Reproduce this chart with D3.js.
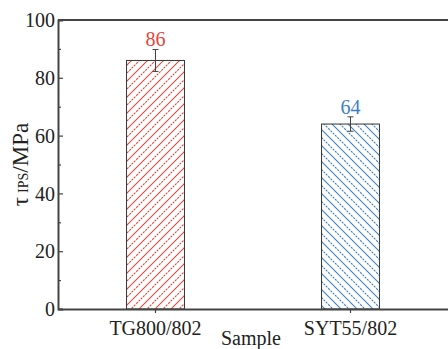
<!DOCTYPE html>
<html><head><meta charset="utf-8">
<script src="https://cdn.jsdelivr.net/npm/d3@7"></script>
<style>body{margin:0;background:#fff;}svg{display:block;} svg text{font-family:"Liberation Serif","DejaVu Serif",serif !important;}</style>
</head><body>
<script>
const categories = ["TG800/802", "SYT55/802"];
const values = [86, 64];
const errors = [3.8, 2.5];
const colors = ["#e2463a", "#3e80c6"];
const yTicks = [0, 20, 40, 60, 80, 100];

const W = 448, H = 349;
const m = {l: 58, t: 20, r: 0, b: 40};
const svg = d3.select("body").append("svg").attr("width", W).attr("height", H);
const defs = svg.append("defs");

const x = d3.scaleBand().domain(categories).range([m.l, W - m.r]).paddingInner(0.703).paddingOuter(0.3515);
const y = d3.scaleLinear().domain([0, 100]).range([H - m.b, m.t]);

// hatch patterns: alternating solid and dotted diagonal lines
categories.forEach((c, i) => {
  const p = defs.append("pattern").attr("id", "h" + i).attr("patternUnits", "userSpaceOnUse")
    .attr("width", 16).attr("height", 16);
  const seg = (k, solid) => {
    let l;
    if (i === 0) l = p.append("line").attr("x1", k - 18).attr("y1", 18).attr("x2", k + 2).attr("y2", -2);
    else l = p.append("line").attr("x1", k - 18).attr("y1", -2).attr("x2", k + 2).attr("y2", 18);
    l.attr("stroke", colors[i]).attr("stroke-width", 1.1);
    if (!solid) l.attr("stroke-dasharray", "2.2,1");
  };
  seg(0, true); seg(16, true); seg(32, true); seg(8, false); seg(24, false);
});

// bars
svg.selectAll("rect.bar").data(categories).enter().append("rect")
  .attr("x", d => x(d)).attr("width", x.bandwidth())
  .attr("y", (d, i) => y(values[i])).attr("height", (d, i) => y(0) - y(values[i]))
  .attr("fill", (d, i) => `url(#h${i})`).attr("stroke", "#333").attr("stroke-width", 1);

// error bars
const eb = svg.append("g").attr("stroke", "#444").attr("stroke-width", 1);
categories.forEach((c, i) => {
  const cx = x(c) + x.bandwidth() / 2;
  eb.append("line").attr("x1", cx).attr("x2", cx).attr("y1", y(values[i] + errors[i])).attr("y2", y(values[i] - errors[i]));
  [1, -1].forEach(s => eb.append("line").attr("x1", cx - 3).attr("x2", cx + 3)
    .attr("y1", y(values[i] + s * errors[i])).attr("y2", y(values[i] + s * errors[i])));
});

// value labels
svg.selectAll("text.val").data(categories).enter().append("text")
  .attr("x", d => x(d) + x.bandwidth() / 2).attr("y", (d, i) => y(values[i] + errors[i]) - 3)
  .attr("text-anchor", "middle").attr("font-size", 20)
  .attr("fill", (d, i) => colors[i]).text((d, i) => values[i]);

// axes
const axisColor = "#444";
const yAxis = svg.append("g").attr("transform", `translate(${m.l},0)`)
  .call(d3.axisRight(y).tickValues(yTicks).tickSize(5).tickFormat(""));
svg.append("g").attr("transform", `translate(${m.l},0)`)
  .call(d3.axisRight(y).tickValues(d3.range(10, 100, 20)).tickSize(3).tickFormat(""))
  .call(g => g.select(".domain").remove());
yAxis.selectAll(".tick").append("text").attr("x", -3).attr("dy", "0.33em")
  .attr("text-anchor", "end").attr("fill", "#222").attr("font-size", 20)
  .text(d => d);
const xAxis = svg.append("g").attr("transform", `translate(0,${y(0)})`)
  .call(d3.axisBottom(x).tickSize(4).tickSizeOuter(0));
xAxis.selectAll("text").attr("font-size", 20).attr("fill", "#222").attr("dy", "0.95em");
svg.selectAll(".domain").attr("stroke", axisColor).attr("stroke-width", 2);
svg.selectAll(".tick line").attr("stroke", axisColor).attr("stroke-width", 1.2);
// top spine
svg.append("line").attr("x1", m.l).attr("x2", W).attr("y1", y(100)).attr("y2", y(100))
  .attr("stroke", axisColor).attr("stroke-width", 2);

// axis titles
svg.append("text").attr("x", (m.l + W) / 2 - 2).attr("y", H - 4).attr("text-anchor", "middle")
  .attr("font-size", 20).attr("fill", "#222").text("Sample");
const yl = svg.append("text").attr("transform", `translate(28,${(y(0) + y(100)) / 2}) rotate(-90)`)
  .attr("text-anchor", "middle").attr("font-size", 23).attr("fill", "#222");
yl.append("tspan").text("τ");
yl.append("tspan").attr("font-size", 14).attr("dx", 4).text("IPS");
yl.append("tspan").text("/MPa");
</script>
</body></html>
